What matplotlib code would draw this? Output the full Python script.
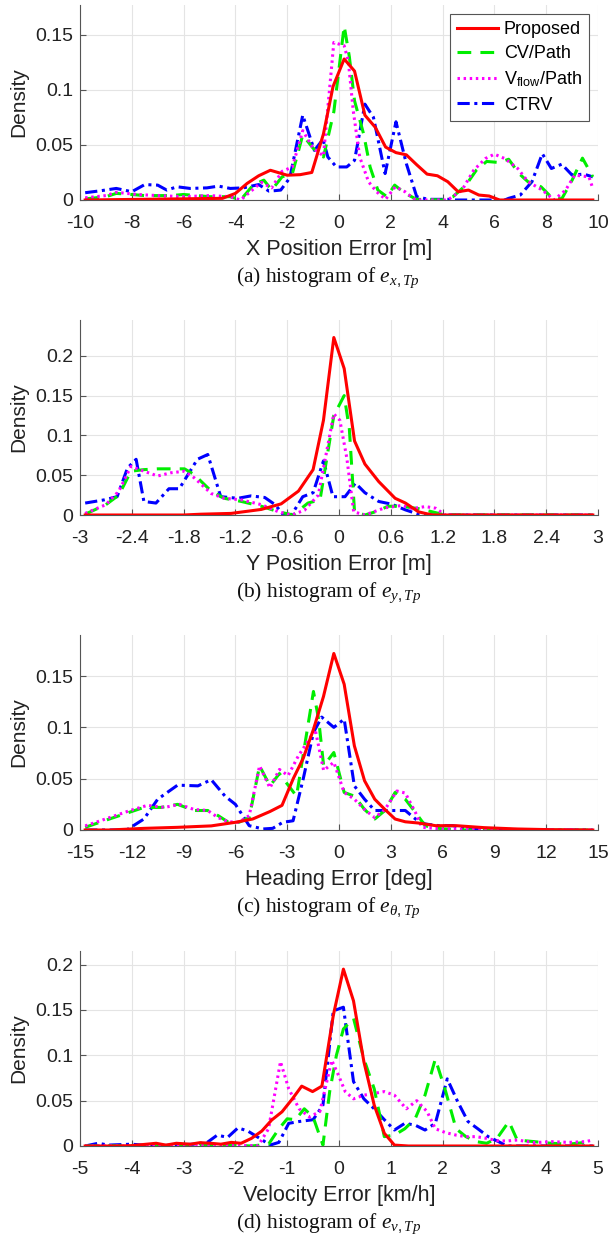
import matplotlib
matplotlib.use("Agg")
import matplotlib.pyplot as plt

plt.rcParams['font.family'] = ['Liberation Sans', 'DejaVu Sans']
plt.rcParams['mathtext.fontset'] = 'custom'
plt.rcParams['mathtext.rm'] = 'Liberation Sans'
plt.rcParams['mathtext.it'] = 'Liberation Serif:italic'

labels = ["Proposed", "CV/Path", r"V$_{\mathrm{flow}}$/Path", "CTRV"]

# (a) X position error
xa_prop = [-9.8, -4.5, -4.0, -3.55, -3.1, -2.65, -2.0, -1.5, -1.05, -0.6, -0.23, 0.2, 0.6, 1.0, 1.4, 1.8,
           2.2, 2.6, 3.0, 3.4, 3.8, 4.2, 4.6, 5.0, 5.4, 5.8, 6.2, 9.8]
ya_prop = [0, 0.0015, 0.006, 0.015, 0.022, 0.027, 0.0225, 0.023, 0.025, 0.06, 0.103, 0.128, 0.117, 0.077,
           0.066, 0.048, 0.043, 0.041, 0.032, 0.0235, 0.022, 0.0166, 0.0075, 0.009, 0.0045, 0.0036, 0, 0]
xa_cv = [-9.8, -9.0, -8.6, -8.0, -7.5, -6.5, -6.0, -5.0, -4.2, -3.8, -3.3, -2.9, -2.6, -2.2, -1.8, -1.4,
         -1.0, -0.6, -0.2, 0.2, 0.4, 0.6, 0.95, 1.2, 1.5, 1.85, 2.15, 2.55, 3.0, 4.0, 4.4, 4.9, 5.3, 5.7,
         6.2, 6.55, 6.95, 7.3, 7.8, 8.2, 8.6, 9.0, 9.4, 9.8]
ya_cv = [0.001, 0.003, 0.006, 0.005, 0.004, 0.004, 0.005, 0.003, 0.003, 0.0, 0.014, 0.018, 0.009, 0.021,
         0.024, 0.059, 0.047, 0.039, 0.08, 0.158, 0.13, 0.09, 0.06, 0.03, 0.009, 0.003, 0.0135, 0.006,
         0.0006, 0, 0.003, 0.0135, 0.027, 0.035, 0.034, 0.037, 0.024, 0.0165, 0.012, 0.0025, 0.001, 0.018,
         0.038, 0.021]
xa_vf = [-9.8, -9.0, -8.6, -7.8, -7.0, -6.0, -5.0, -4.2, -3.8, -3.4, -3.0, -2.6, -2.2, -1.8, -1.4, -1.0,
         -0.6, -0.2, 0.2, 0.36, 0.55, 0.8, 1.14, 1.45, 1.8, 2.17, 2.55, 2.95, 4.2, 4.75, 5.2, 5.65, 6.0,
         6.4, 6.9, 7.3, 7.85, 8.3, 8.75, 9.1, 9.65, 9.8]
ya_vf = [0.002, 0.004, 0.007, 0.005, 0.004, 0.003, 0.004, 0.003, 0.0, 0.008, 0.016, 0.011, 0.026, 0.03,
         0.063, 0.047, 0.04, 0.143, 0.14, 0.126, 0.081, 0.039, 0.0166, 0.0075, 0.0006, 0.012, 0.0075, 0, 0,
         0.009, 0.027, 0.0376, 0.0416, 0.0376, 0.0286, 0.0166, 0.009, 0, 0.009, 0.0226, 0.021, 0.0105]
xa_ctrv = [-9.8, -9.2, -8.6, -8.0, -7.5, -7.0, -6.65, -6.25, -5.75, -5.1, -4.65, -4.2, -3.7, -3.1, -2.7,
           -2.25, -1.9, -1.4, -0.95, -0.62, -0.43, -0.1, 0.3, 0.6, 1.0, 1.33, 1.78, 2.2, 2.6, 3.0, 3.45,
           4.2, 4.4, 6.4, 6.55, 7.0, 7.45, 7.85, 8.2, 8.6, 9.0, 9.45, 9.8]
ya_ctrv = [0.0066, 0.0084, 0.0105, 0.0075, 0.014, 0.0135, 0.009, 0.012, 0.0105, 0.011, 0.0126, 0.0105,
           0.011, 0.014, 0.008, 0.009, 0.02, 0.077, 0.045, 0.055, 0.039, 0.03, 0.03, 0.036, 0.087, 0.075,
           0.024, 0.071, 0.033, 0.003, 0.0006, 0.0006, 0, 0, 0.0015, 0.0045, 0.0166, 0.042, 0.0286,
           0.0325, 0.0226, 0.0235, 0.021]

# (b) Y position error
xb_prop = [-2.94, -1.8, -1.6, -1.25, -0.9, -0.67, -0.47, -0.3, -0.18, -0.06, 0.06, 0.18, 0.3, 0.46, 0.65,
           0.77, 0.92, 1.08, 2.94]
yb_prop = [0, 0, 0.001, 0.002, 0.007, 0.014, 0.03, 0.057, 0.119, 0.223, 0.184, 0.093, 0.064, 0.042, 0.021,
           0.015, 0.004, 0, 0]
xb_cv = [-2.94, -2.7, -2.55, -2.41, -2.26, -2.1, -1.79, -1.68, -1.48, -1.33, -1.13, -0.9, -0.7, -0.53,
         -0.36, -0.22, -0.06, 0.06, 0.12, 0.18, 0.3, 0.42, 0.57, 0.73, 0.92, 1.08, 1.23, 2.94]
yb_cv = [0.001, 0.013, 0.025, 0.055, 0.057, 0.058, 0.058, 0.051, 0.03, 0.021, 0.017, 0.011, 0.004, 0,
         0.015, 0.019, 0.125, 0.15, 0.108, 0.004, 0, 0.004, 0.011, 0.011, 0.008, 0.004, 0, 0]
xb_vf = [-2.94, -2.7, -2.55, -2.41, -2.26, -2.1, -1.95, -1.79, -1.68, -1.48, -1.33, -1.13, -0.9, -0.7,
         -0.55, -0.4, -0.24, -0.06, 0.01, 0.09, 0.17, 0.3, 0.53, 0.73, 0.85, 1.0, 1.12, 1.23, 2.94]
yb_vf = [0.002, 0.013, 0.03, 0.061, 0.055, 0.049, 0.053, 0.055, 0.047, 0.027, 0.021, 0.019, 0.013, 0.004,
         0, 0.006, 0.025, 0.127, 0.119, 0.072, 0.004, 0, 0.009, 0.012, 0.008, 0.0106, 0.0085, 0, 0]
xb_ctrv = [-2.94, -2.72, -2.57, -2.45, -2.35, -2.26, -2.12, -1.97, -1.85, -1.64, -1.52, -1.37, -1.17,
           -1.02, -0.86, -0.74, -0.65, -0.55, -0.42, -0.3, -0.18, -0.07, 0.07, 0.19, 0.3, 0.46, 0.61,
           0.77, 0.92, 1.12, 2.94]
yb_ctrv = [0.015, 0.019, 0.023, 0.059, 0.07, 0.017, 0.015, 0.033, 0.033, 0.07, 0.076, 0.023, 0.021, 0.024,
           0.022, 0.013, 0.001, 0, 0.023, 0.028, 0.068, 0.023, 0.023, 0.04, 0.028, 0.017, 0.0136, 0.0064,
           0.001, 0, 0]

# (c) heading error
xc_prop = [-14.7, -13.3, -11.3, -9.35, -7.4, -6.0, -5.0, -4.0, -3.3, -2.65, -2.07, -1.48, -0.9, -0.3, 0.3,
           0.89, 1.48, 2.07, 2.66, 3.25, 3.84, 4.6, 5.6, 6.8, 8.4, 10.3, 12.3, 14.7]
yc_prop = [0, 0, 0.0016, 0.0026, 0.004, 0.0075, 0.0107, 0.018, 0.024, 0.05, 0.07, 0.098, 0.13, 0.172,
           0.142, 0.082, 0.048, 0.03, 0.02, 0.0107, 0.008, 0.0068, 0.0042, 0.0042, 0.0023, 0.001, 0.0003, 0]
xc_cv = [-14.7, -13.3, -11.3, -10.3, -9.35, -8.4, -7.6, -7.0, -6.4, -5.8, -5.2, -4.6, -4.0, -3.45, -3.05,
         -2.46, -1.48, -1.18, -0.89, -0.3, 0.3, 0.89, 1.48, 2.07, 2.66, 3.25, 3.84, 4.43, 5.0, 6.0, 7.4,
         14.7]
yc_cv = [0.0026, 0.0107, 0.022, 0.022, 0.025, 0.019, 0.019, 0.014, 0.0075, 0.0075, 0.012, 0.0625, 0.043,
         0.055, 0.046, 0.033, 0.135, 0.108, 0.0625, 0.0755, 0.0366, 0.033, 0.02, 0.0107, 0.019, 0.0366,
         0.03, 0.017, 0.004, 0.001, 0, 0]
xc_vf = [-14.7, -13.3, -12.1, -11.1, -10.1, -9.25, -8.4, -7.6, -7.0, -6.4, -5.8, -5.2, -4.6, -4.0, -3.45,
         -2.95, -2.36, -1.67, -1.38, -0.89, -0.3, 0.3, 0.89, 1.48, 2.07, 2.66, 3.35, 3.84, 4.43, 4.8, 6.0,
         14.7]
yc_vf = [0.004, 0.012, 0.019, 0.024, 0.022, 0.025, 0.02, 0.019, 0.012, 0.008, 0.0075, 0.014, 0.0625,
         0.041, 0.059, 0.053, 0.072, 0.09, 0.098, 0.058, 0.066, 0.0366, 0.03, 0.02, 0.012, 0.02, 0.038,
         0.036, 0.017, 0.0026, 0.001, 0]
xc_ctrv = [-14.7, -12.3, -11.3, -10.5, -9.35, -8.17, -7.4, -6.6, -6.0, -5.2, -4.4, -3.84, -3.25, -2.66,
           -2.07, -1.48, -1.0, -0.3, 0.3, 0.89, 1.48, 2.07, 2.66, 3.25, 3.84, 4.43, 5.0, 5.8, 6.6, 7.4,
           8.8, 14.7]
yc_ctrv = [0, 0, 0.0107, 0.03, 0.0437, 0.043, 0.049, 0.033, 0.025, 0.0042, 0.001, 0.0016, 0.0075, 0.009,
           0.05, 0.095, 0.11, 0.1, 0.108, 0.043, 0.03, 0.019, 0.019, 0.019, 0.019, 0.0107, 0.0058, 0.0042,
           0.0042, 0.001, 0, 0]

# (d) velocity error
xd_prop = [-4.9, -4.3, -4.0, -3.53, -3.34, -3.14, -2.87, -2.68, -2.48, -2.28, -2.08, -1.89, -1.69, -1.49,
           -1.3, -1.1, -0.9, -0.72, -0.51, -0.33, -0.11, 0.085, 0.28, 0.48, 0.68, 0.875, 1.07, 1.34, 4.9]
yd_prop = [0, 0, 0.0004, 0.003, 0.001, 0.003, 0.002, 0.0037, 0.003, 0.002, 0.004, 0.003, 0.0084, 0.0165,
           0.0286, 0.0377, 0.052, 0.066, 0.06, 0.066, 0.144, 0.195, 0.16, 0.093, 0.045, 0.014, 0.001, 0, 0]
xd_cv = [-4.9, -2.08, -1.69, -1.36, -1.16, -1.0, -0.84, -0.67, -0.5, -0.31, -0.18, -0.05, 0.085, 0.28,
         0.48, 0.68, 0.875, 1.07, 1.27, 1.47, 1.66, 1.86, 2.06, 2.26, 2.45, 2.65, 2.85, 3.05, 3.28, 3.44,
         3.77, 4.1, 4.43, 4.76, 4.9]
yd_cv = [0, 0.001, 0, 0.002, 0.019, 0.03, 0.029, 0.041, 0.032, 0.001, 0.06, 0.1, 0.129, 0.141, 0.096,
         0.063, 0.0103, 0.012, 0.019, 0.03, 0.056, 0.096, 0.06, 0.019, 0.0103, 0.0048, 0.003, 0.0084, 0.027,
         0.0066, 0.0048, 0.003, 0.002, 0.004, 0.0055]
xd_vf = [-4.9, -1.56, -1.36, -1.13, -0.97, -0.77, -0.57, -0.37, -0.14, -0.01, 0.12, 0.28, 0.48, 0.68,
         0.875, 1.07, 1.3, 1.5, 1.7, 1.86, 2.06, 2.26, 2.45, 2.65, 2.85, 3.05, 3.24, 3.44, 3.77, 4.1, 4.43,
         4.76, 4.9]
yd_vf = [0, 0.0004, 0.019, 0.093, 0.063, 0.041, 0.032, 0.038, 0.0945, 0.078, 0.06, 0.052, 0.056, 0.058,
         0.06, 0.056, 0.041, 0.05, 0.038, 0.019, 0.0147, 0.012, 0.0103, 0.0103, 0.0084, 0.0059, 0.0055,
         0.0066, 0.0037, 0.0048, 0.004, 0.0048, 0.0066]
xd_ctrv = [-4.9, -4.65, -4.45, -4.0, -3.6, -3.2, -2.8, -2.55, -2.35, -2.15, -1.95, -1.76, -1.53, -1.33,
           -1.16, -0.97, -0.77, -0.5, -0.31, -0.11, 0.085, 0.28, 0.48, 0.68, 0.875, 1.07, 1.27, 1.47, 1.66,
           1.86, 2.09, 2.29, 2.49, 2.68, 2.88, 3.08, 3.24, 4.9]
yd_ctrv = [0, 0.003, 0.001, 0.002, 0, 0.001, 0.002, 0.0037, 0.012, 0.0095, 0.02, 0.0165, 0.0084, 0.001,
           0.004, 0.025, 0.027, 0.029, 0.045, 0.149, 0.153, 0.071, 0.052, 0.041, 0.029, 0.0176, 0.025, 0.023,
           0.0176, 0.025, 0.074, 0.049, 0.027, 0.019, 0.0103, 0.0048, 0, 0]

xlabels = ["X Position Error [m]", "Y Position Error [m]", "Heading Error [deg]", "Velocity Error [km/h]"]
captions = [r"(a) histogram of $e_{x,Tp}$", r"(b) histogram of $e_{y,Tp}$",
            r"(c) histogram of $e_{\theta,Tp}$", r"(d) histogram of $e_{v,Tp}$"]
xlims = [10, 3, 15, 5]
xsteps = [2, 0.6, 3, 1]
ytops = [0.177, 0.245, 0.19, 0.215]
yticks = [[0, 0.05, 0.1, 0.15], [0, 0.05, 0.1, 0.15, 0.2], [0, 0.05, 0.1, 0.15], [0, 0.05, 0.1, 0.15, 0.2]]

panels = [
    [(xa_prop, ya_prop), (xa_cv, ya_cv), (xa_vf, ya_vf), (xa_ctrv, ya_ctrv)],
    [(xb_prop, yb_prop), (xb_cv, yb_cv), (xb_vf, yb_vf), (xb_ctrv, yb_ctrv)],
    [(xc_prop, yc_prop), (xc_cv, yc_cv), (xc_vf, yc_vf), (xc_ctrv, yc_ctrv)],
    [(xd_prop, yd_prop), (xd_cv, yd_cv), (xd_vf, yd_vf), (xd_ctrv, yd_ctrv)],
]

colors = ["#ff0000", "#00ee00", "#ff00ff", "#0000ff"]
styles = [dict(linestyle="-"), dict(dashes=(4.5, 3)), dict(dashes=(0.8, 1.2)), dict(dashes=(4, 1.5, 1, 1.5))]
zorders = [5, 3, 4, 2]

W, H = 610, 1239
fig = plt.figure(figsize=(W / 100, H / 100), dpi=100)

left, right = 80, 598
tops = [5, 320, 635, 951]
height = 195

for i in range(4):
    top = tops[i]
    ax = fig.add_axes([left / W, 1 - (top + height) / H, (right - left) / W, height / H])
    handles = []
    for k, (xs, ys) in enumerate(panels[i]):
        h, = ax.plot(xs, ys, color=colors[k], lw=2.2, zorder=zorders[k], label=labels[k], **styles[k])
        handles.append(h)

    lim = xlims[i]
    step = xsteps[i]
    n = int(round(2 * lim / step))
    xt = [-lim + j * step for j in range(n + 1)]
    ax.set_xlim(-lim, lim)
    ax.set_xticks(xt)
    ax.set_xticklabels(["%g" % round(v, 2) if abs(v) > 1e-9 else "0" for v in xt])
    ax.set_ylim(0, ytops[i])
    ax.set_yticks(yticks[i])
    ax.set_yticklabels(["%g" % v for v in yticks[i]])

    ax.grid(True, color="#e4e4e4", lw=0.8)
    ax.set_axisbelow(True)
    for s in ["top", "right"]:
        ax.spines[s].set_visible(False)
    for s in ["left", "bottom"]:
        ax.spines[s].set_color("#555555")
        ax.spines[s].set_linewidth(0.8)
    ax.tick_params(direction="in", length=4, width=0.8, color="#555555", labelsize=14,
                   labelcolor="#222222")
    ax.tick_params(axis="x", pad=10.5)
    ax.tick_params(axis="y", pad=5)

    ax.set_ylabel("Density", fontsize=15, color="#222222", labelpad=5)
    ax.set_xlabel(xlabels[i], fontsize=15.5, color="#222222", labelpad=5)

    fig.text(0.538, 1 - (top + height + 78) / H, captions[i], fontsize=15.5, ha="center", va="center",
             family="Liberation Serif", color="#111111")

    if i == 0:
        leg = ax.legend(handles=handles, loc="upper right", fontsize=13, frameon=True, fancybox=False,
                        framealpha=1, edgecolor="#555555", handlelength=2.3, handletextpad=0.3,
                        borderpad=0.4, labelspacing=0.4, borderaxespad=0.5)
        leg.get_frame().set_linewidth(0.8)

fig.savefig("out.png", dpi=100)
